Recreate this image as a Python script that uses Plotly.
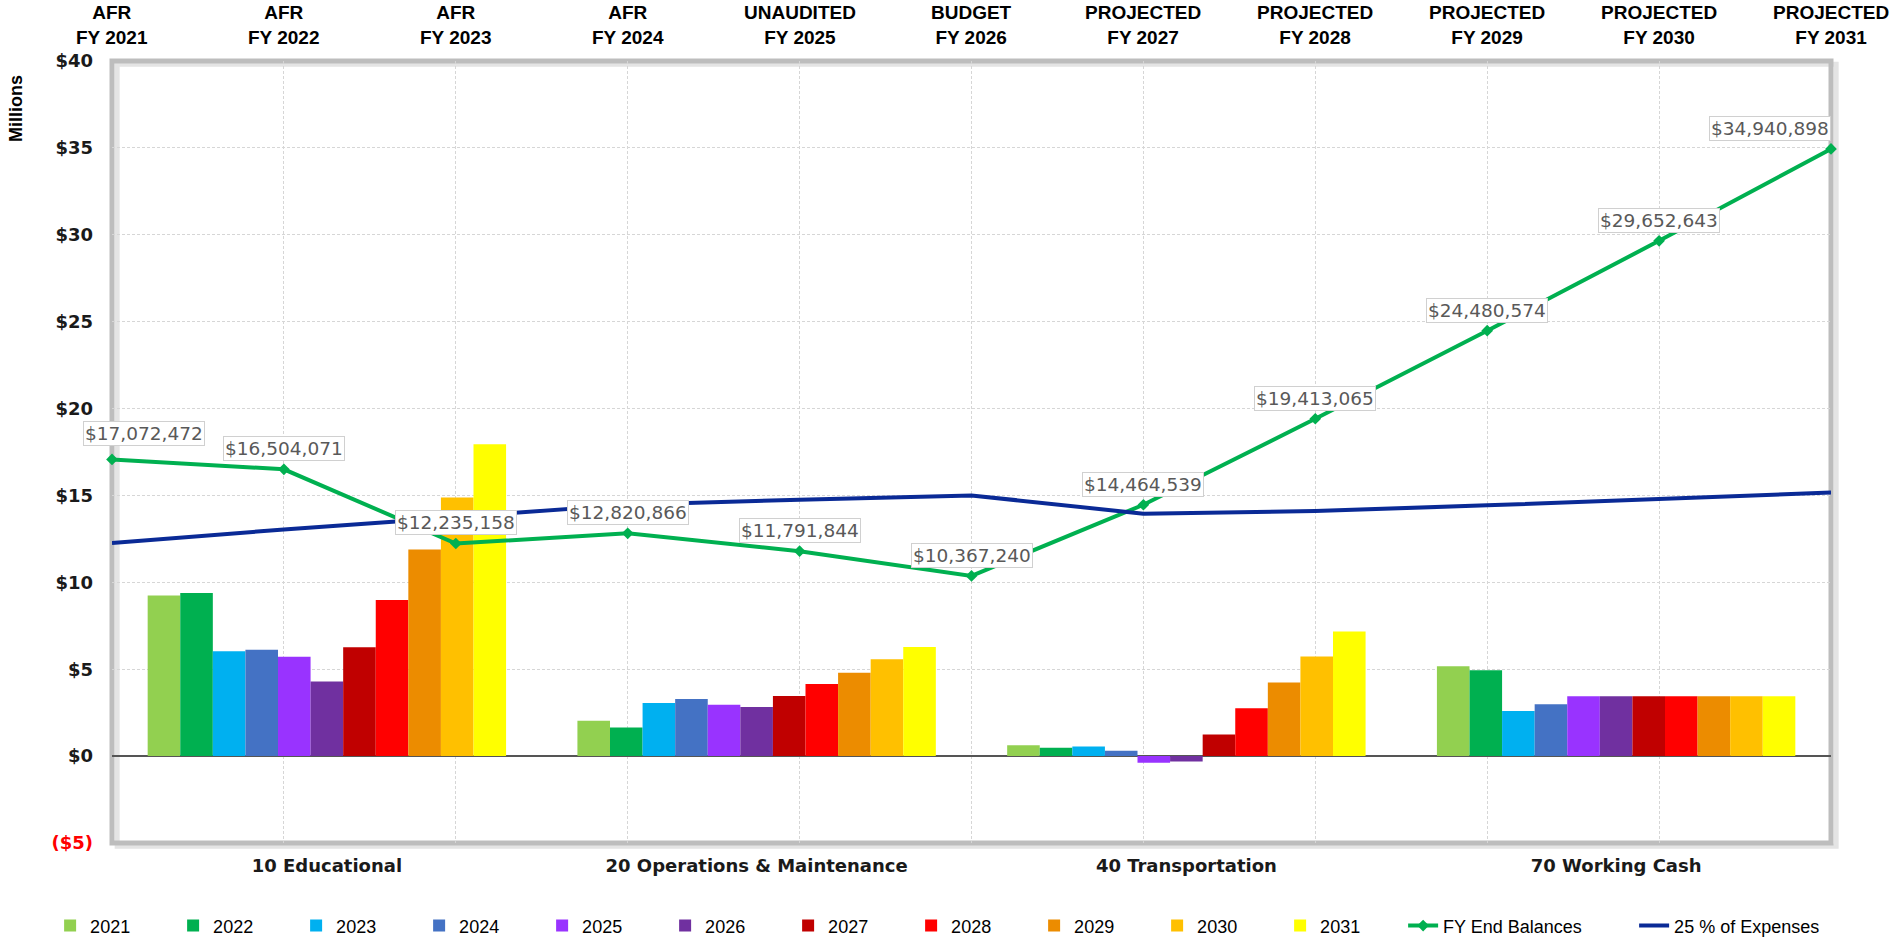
import plotly.graph_objects as go

# ---------------- data ----------------
categories = ["10 Educational", "20 Operations & Maintenance", "40 Transportation", "70 Working Cash"]
years = ["2021", "2022", "2023", "2024", "2025", "2026", "2027", "2028", "2029", "2030", "2031"]

# fund balances by year (millions), order follows categories
fy2021 = [9.24, 2.04, 0.62, 5.17]
fy2022 = [9.39, 1.64, 0.48, 4.94]
fy2023 = [6.04, 3.06, 0.56, 2.59]
fy2024 = [6.12, 3.29, 0.31, 2.98]
fy2025 = [5.72, 2.96, -0.38, 3.44]
fy2026 = [4.30, 2.83, -0.31, 3.44]
fy2027 = [6.27, 3.46, 1.25, 3.44]
fy2028 = [8.99, 4.15, 2.75, 3.44]
fy2029 = [11.89, 4.79, 4.23, 3.44]
fy2030 = [14.88, 5.57, 5.73, 3.44]
fy2031 = [17.94, 6.28, 7.17, 3.44]
bar_series = [fy2021, fy2022, fy2023, fy2024, fy2025, fy2026, fy2027, fy2028, fy2029, fy2030, fy2031]

stage_labels = ["AFR", "AFR", "AFR", "AFR", "UNAUDITED", "BUDGET",
                "PROJECTED", "PROJECTED", "PROJECTED", "PROJECTED", "PROJECTED"]
fy_labels = ["FY 2021", "FY 2022", "FY 2023", "FY 2024", "FY 2025", "FY 2026",
             "FY 2027", "FY 2028", "FY 2029", "FY 2030", "FY 2031"]

fy_end_balances = [17072472, 16504071, 12235158, 12820866, 11791844, 10367240,
                   14464539, 19413065, 24480574, 29652643, 34940898]
expenses_25pct = [12.27, 13.04, 13.75, 14.47, 14.75, 15.00, 13.95, 14.10, 14.43, 14.82, 15.17]

y_tick_vals = [-5, 0, 5, 10, 15, 20, 25, 30, 35, 40]
y_tick_text = ["<span style='color:#FF0000'>($5)</span>", "$0", "$5", "$10", "$15",
               "$20", "$25", "$30", "$35", "$40"]

# ---------------- styles ----------------
bar_colors = ["#92D050", "#00B050", "#00B0F0", "#4472C4", "#9933FF", "#7030A0",
              "#C00000", "#FF0000", "#EC8C00", "#FFC000", "#FFFF00"]
NARROW = "Liberation Sans, Arial, sans-serif"
VERD = "DejaVu Sans, Verdana, sans-serif"
GRID = "#d6d6d6"

fig = go.Figure()

for i, (yr, vals) in enumerate(zip(years, bar_series)):
    fig.add_trace(go.Bar(
        x=categories, y=vals, name=yr, marker=dict(color=bar_colors[i], line=dict(width=0)),
        xaxis="x", yaxis="y"))

x_pos = list(range(len(years)))
bal_m = [v / 1e6 for v in fy_end_balances]

fig.add_trace(go.Scatter(
    x=x_pos, y=bal_m, name="FY End Balances", mode="lines+markers",
    line=dict(color="#00B050", width=4), marker=dict(symbol="diamond", size=9, color="#00B050"),
    xaxis="x2", yaxis="y", legendwidth=186, cliponaxis=False))

fig.add_trace(go.Scatter(
    x=x_pos, y=expenses_25pct, name="25 % of Expenses", mode="lines",
    line=dict(color="#0A2A96", width=4), xaxis="x2", yaxis="y", legendwidth=165,
    cliponaxis=False))

annotations = []
# balance data labels
for i, v in enumerate(fy_end_balances):
    xs, ys = 0, 8
    if i == 0:
        xs, ys = 32, 13
    elif i == len(fy_end_balances) - 1:
        xs = -61
    annotations.append(dict(
        x=i, y=v / 1e6, xref="x2", yref="y", text=f"${v:,.0f}", showarrow=False,
        yanchor="bottom", xanchor="center", xshift=xs, yshift=ys,
        font=dict(family=VERD, size=18.5, color="#595959"),
        bgcolor="white", bordercolor="#d0d0d0", borderwidth=1, borderpad=1))

# top year headers
for i, (s, f) in enumerate(zip(stage_labels, fy_labels)):
    annotations.append(dict(
        x=i, y=1, xref="x2", yref="paper", text=f"{s}<br>{f}", showarrow=False,
        xanchor="center", yanchor="bottom", xshift=0, yshift=11,
        font=dict(family=NARROW, size=19, color="black", weight="bold")))

annotations.append(dict(
    x=0, y=1, xref="paper", yref="paper", text="Millions", showarrow=False, textangle=-90,
    xanchor="center", yanchor="middle", xshift=-96, yshift=-48,
    font=dict(family=NARROW, size=18, color="black", weight="bold")))

fig.update_layout(
    width=1893, height=939,
    margin=dict(l=112, r=62, t=61, b=96, autoexpand=False),
    paper_bgcolor="white", plot_bgcolor="white",
    barmode="group", bargap=0.166, bargroupgap=0,
    showlegend=True,
    legend=dict(orientation="h", x=-0.036, xanchor="left", y=-0.106, yanchor="middle",
                entrywidth=78, entrywidthmode="pixels", traceorder="normal",
                font=dict(family=NARROW, size=18, color="black"),
                bgcolor="rgba(0,0,0,0)"),
    xaxis=dict(type="category", range=[-0.5, 3.5], showgrid=False, zeroline=False,
               showline=False, ticks="", ticklabelstandoff=10,
               tickfont=dict(family=VERD, size=18, color="#1a1a1a", weight="bold")),
    xaxis2=dict(overlaying="x", side="top", range=[0, 10], tickvals=x_pos,
                showticklabels=False, ticks="", showgrid=True, gridcolor=GRID,
                griddash="3px,2px", gridwidth=1, zeroline=False, showline=False),
    yaxis=dict(range=[-5, 40], tickvals=y_tick_vals, ticktext=y_tick_text,
               showgrid=True, gridcolor=GRID, griddash="3px,2px", gridwidth=1,
               zeroline=True, zerolinecolor="#555555", zerolinewidth=1.5,
               ticks="", ticklabelstandoff=18, showline=False,
               tickfont=dict(family=VERD, size=18, color="#1a1a1a", weight="bold")),
    annotations=annotations,
    shapes=[
        dict(type="rect", xref="paper", yref="paper", x0=0.003, y0=-0.004, x1=1.003, y1=0.996,
             line=dict(color="#e4e4e4", width=5), layer="below"),
        dict(type="rect", xref="paper", yref="paper", x0=0, y0=0, x1=1, y1=1,
             line=dict(color="#bdbdbd", width=5), layer="below"),
    ],
)

fig.write_html("out.html", config={"displayModeBar": False},
               post_script="document.body.style.margin='0px';")
